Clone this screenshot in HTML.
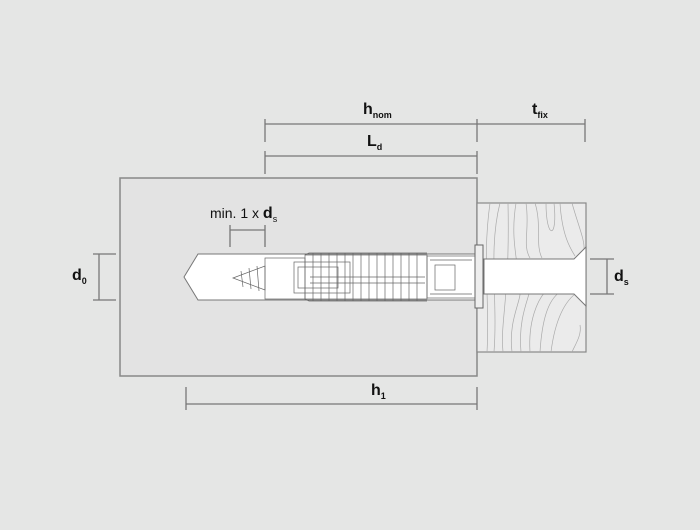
<!DOCTYPE html>
<html><head><style>
html,body{margin:0;padding:0;background:#e5e6e5;}
svg{display:block;}
text{font-family:"Liberation Sans",sans-serif;fill:#111;font-weight:bold;}
</style></head><body>
<svg width="700" height="530" viewBox="0 0 700 530" xmlns="http://www.w3.org/2000/svg">
<rect width="700" height="530" fill="#e5e6e5"/>
<!-- base material -->
<rect x="120" y="178" width="357" height="198" fill="#e3e3e3" stroke="#888" stroke-width="1.5"/>
<!-- wood -->
<rect x="477" y="203" width="109" height="149" fill="#ebebeb" stroke="#888" stroke-width="1.2"/>
<g stroke="#aaa" stroke-width="0.7" fill="none">
<path d="M487 352 C490 300 482 260 490 203"/>
<path d="M494 352 C498 300 488 250 500 203"/>
<path d="M503 352 C500 320 510 300 508 203"/>
<path d="M512 352 C508 320 522 300 520 290 C518 260 510 240 516 203"/>
<path d="M521 352 C518 320 528 300 530 290"/>
<path d="M530 352 C528 320 538 300 545 292"/>
<path d="M540 352 C542 320 548 300 560 292"/>
<path d="M551 352 C555 320 565 300 578 292"/>
<path d="M526 203 C530 230 522 245 530 258"/>
<path d="M535 203 C542 225 535 245 542 258"/>
<path d="M546 203 C546 240 558 240 554 203"/>
<path d="M560 203 C562 235 570 248 575 256"/>
<path d="M572 203 C578 225 585 240 584 250"/>
<path d="M580 325 C582 335 575 345 572 352"/>
</g>
<!-- screw shank -->
<polygon points="484,259 574,259 586,247 586,306 574,294 484,294" fill="#fff" stroke="#777" stroke-width="1"/>
<!-- hole -->
<polygon points="198,254 477,254 477,300 198,300 184,277" fill="#fff" stroke="#777" stroke-width="1"/>
<g stroke="#666" stroke-width="0.7" fill="none">
<rect x="265" y="258" width="40" height="41"/>
<polygon points="233,278 265,266 265,290"/>
<line x1="241" y1="271" x2="243" y2="287"/>
<line x1="249" y1="268" x2="251" y2="289"/>
<line x1="257" y1="266" x2="259" y2="291"/>
<rect x="305" y="255" width="122" height="44"/>
<path d="M305 255 l4 -2 h118"/>
<path d="M305 299 l4 2 h118"/>
<line x1="313" y1="253" x2="313" y2="301"/><line x1="321" y1="253" x2="321" y2="301"/>
<line x1="329" y1="253" x2="329" y2="301"/><line x1="337" y1="253" x2="337" y2="301"/>
<line x1="345" y1="253" x2="345" y2="301"/><line x1="353" y1="253" x2="353" y2="301"/>
<line x1="361" y1="253" x2="361" y2="301"/><line x1="369" y1="253" x2="369" y2="301"/>
<line x1="377" y1="253" x2="377" y2="301"/><line x1="385" y1="253" x2="385" y2="301"/>
<line x1="393" y1="253" x2="393" y2="301"/><line x1="401" y1="253" x2="401" y2="301"/>
<line x1="409" y1="253" x2="409" y2="301"/><line x1="417" y1="253" x2="417" y2="301"/>
<rect x="294" y="262" width="56" height="31"/>
<rect x="298" y="267" width="40" height="21"/>
<line x1="310" y1="277" x2="425" y2="277"/>
<line x1="310" y1="283" x2="425" y2="283"/>
<rect x="427" y="256" width="48" height="42"/>
<rect x="435" y="265" width="20" height="25"/>
<path d="M430 260 h42 M430 294 h42"/>
</g>
<rect x="475" y="245" width="8" height="63" fill="#eee" stroke="#666" stroke-width="1"/>
<g stroke="#777" stroke-width="1.3" fill="none">
<line x1="265" y1="124" x2="585" y2="124"/>
<line x1="265" y1="119" x2="265" y2="142"/>
<line x1="477" y1="119" x2="477" y2="142"/>
<line x1="585" y1="119" x2="585" y2="142"/>
<line x1="265" y1="156" x2="477" y2="156"/>
<line x1="265" y1="151" x2="265" y2="174"/>
<line x1="477" y1="151" x2="477" y2="174"/>
<line x1="186" y1="404" x2="477" y2="404"/>
<line x1="186" y1="387" x2="186" y2="410"/>
<line x1="477" y1="387" x2="477" y2="410"/>
<line x1="99" y1="254" x2="99" y2="300"/>
<line x1="93" y1="254" x2="116" y2="254"/>
<line x1="93" y1="300" x2="116" y2="300"/>
<line x1="230" y1="230" x2="265" y2="230"/>
<line x1="230" y1="225" x2="230" y2="247"/>
<line x1="265" y1="225" x2="265" y2="247"/>
<line x1="607" y1="259" x2="607" y2="294"/>
<line x1="590" y1="259" x2="614" y2="259"/>
<line x1="590" y1="294" x2="614" y2="294"/>
</g>
<text x="363" y="114" font-size="16">h<tspan font-size="9" dy="4">nom</tspan></text>
<text x="532" y="114" font-size="16">t<tspan font-size="9" dy="4">fix</tspan></text>
<text x="367" y="146" font-size="16">L<tspan font-size="9" dy="4">d</tspan></text>
<text x="371" y="395" font-size="16">h<tspan font-size="9" dy="4">1</tspan></text>
<text x="72" y="280" font-size="16">d<tspan font-size="9" dy="4">0</tspan></text>
<text x="614" y="281" font-size="16">d<tspan font-size="9" dy="4">s</tspan></text>
<text x="210" y="218" font-size="14" style="font-weight:normal">min. 1 x <tspan font-weight="bold" font-size="16">d</tspan><tspan font-size="9" dy="4">s</tspan></text>
</svg>
</body></html>
